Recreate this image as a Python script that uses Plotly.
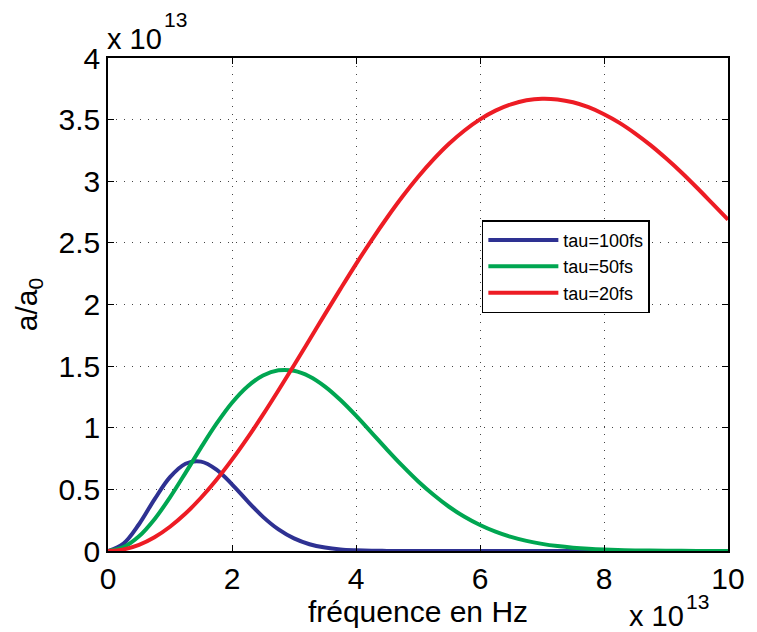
import plotly.graph_objects as go

# Frequency axis in units of 1e13 Hz, amplitude a/a0 in units of 1e13
freq_100 = [0, 0.25, 0.5, 0.75, 1.0, 1.25, 1.5, 1.75, 2.0, 2.25, 2.5, 2.75, 3.0,
            3.25, 3.5, 3.75, 4.0, 4.25, 4.5, 4.75, 5, 6, 7, 8, 9, 10]
amp_100 = [0, 0.060, 0.217, 0.419, 0.599, 0.708, 0.725, 0.660, 0.541, 0.405, 0.277,
           0.175, 0.102, 0.055, 0.028, 0.013, 0.006, 0.002, 0.001, 0.0003, 0, 0, 0, 0, 0, 0]

freq_50 = [0, 0.25, 0.5, 0.75, 1.0, 1.25, 1.5, 1.75, 2.0, 2.25, 2.5, 2.75, 3.0,
           3.25, 3.5, 3.75, 4.0, 4.25, 4.5, 4.75, 5.0, 5.25, 5.5, 5.75, 6.0,
           6.25, 6.5, 6.75, 7.0, 7.25, 7.5, 7.75, 8.0, 8.5, 9.0, 9.5, 10]
amp_50 = [0, 0.031, 0.119, 0.258, 0.435, 0.634, 0.839, 1.033, 1.203, 1.335, 1.424,
          1.466, 1.462, 1.416, 1.334, 1.225, 1.098, 0.961, 0.823, 0.690, 0.566, 0.456,
          0.359, 0.278, 0.211, 0.157, 0.114, 0.082, 0.058, 0.040, 0.027, 0.018, 0.012,
          0.005, 0.002, 0.001, 0]

freq_20 = [0, 0.25, 0.5, 0.75, 1.0, 1.25, 1.5, 1.75, 2.0, 2.25, 2.5, 2.75, 3.0,
           3.25, 3.5, 3.75, 4.0, 4.25, 4.5, 4.75, 5.0, 5.25, 5.5, 5.75, 6.0,
           6.25, 6.5, 6.75, 7.0, 7.25, 7.5, 7.75, 8.0, 8.25, 8.5, 8.75, 9.0,
           9.25, 9.5, 9.75, 10]
amp_20 = [0, 0.013, 0.050, 0.112, 0.197, 0.304, 0.432, 0.578, 0.741, 0.918, 1.106,
          1.304, 1.507, 1.714, 1.922, 2.127, 2.328, 2.521, 2.704, 2.876, 3.034, 3.177,
          3.304, 3.412, 3.502, 3.573, 3.624, 3.657, 3.670, 3.664, 3.641, 3.601, 3.544,
          3.474, 3.389, 3.293, 3.186, 3.071, 2.947, 2.818, 2.688]

series_names = ["tau=100fs", "tau=50fs", "tau=20fs"]
series_colors = ["#2E3192", "#00A651", "#ED1C24"]

x_ticks = [0, 2, 4, 6, 8, 10]
y_ticks = [0, 0.5, 1, 1.5, 2, 2.5, 3, 3.5, 4]

FONT = "Liberation Sans, Arial, Helvetica, sans-serif"
BIG = 30

fig = go.Figure()
for xs, ys, name, col in zip([freq_100, freq_50, freq_20],
                             [amp_100, amp_50, amp_20],
                             series_names, series_colors):
    fig.add_trace(go.Scatter(x=xs, y=ys, mode="lines", name=name,
                             line=dict(color=col, width=4, shape="spline",
                                       smoothing=1.0, simplify=False)))

axis_common = dict(
    showline=True, linecolor="black", linewidth=1.5, mirror="ticks",
    ticks="inside", ticklen=6, tickwidth=1, tickcolor="black",
    showgrid=True, gridcolor="#444444", gridwidth=1, griddash="1px,7px",
    zeroline=False, tickfont=dict(family=FONT, size=BIG, color="black"),
)

fig.update_xaxes(range=[0, 10], tickvals=x_ticks, **axis_common,
                 title=dict(text="fréquence en Hz", font=dict(family=FONT, size=BIG, color="black"),
                            standoff=2))
fig.update_yaxes(range=[0, 4], tickvals=y_ticks, **axis_common,
                 title=dict(text="a/a<sub>0</sub>", font=dict(family=FONT, size=BIG, color="black"),
                            standoff=12))

# Exponent labels of both axes: "x 10" with a raised, smaller "13"
def exponent_label(xp, yp, dx, dy, rise):
    fig.add_annotation(x=xp, y=yp, xref="paper", yref="paper", xanchor="left", yanchor="middle",
                       text="x 10", showarrow=False, xshift=dx, yshift=dy,
                       font=dict(family=FONT, size=29, color="black"))
    fig.add_annotation(x=xp, y=yp, xref="paper", yref="paper", xanchor="left", yanchor="middle",
                       text="13", showarrow=False, xshift=dx + 57, yshift=dy + rise,
                       font=dict(family=FONT, size=21, color="black"))

exponent_label(0, 1, -3, 19, 20)
exponent_label(1, 0, -101, -65, 15)

fig.update_layout(
    width=757, height=632,
    margin=dict(l=108, r=24, t=58, b=81),
    paper_bgcolor="white", plot_bgcolor="white",
    showlegend=True,
    legend=dict(x=0.603, y=0.671, xanchor="left", yanchor="top",
                bgcolor="white", bordercolor="black", borderwidth=1.5,
                font=dict(family=FONT, size=18, color="black"),
                itemwidth=70, tracegroupgap=0),
)

fig.write_html("out.html")
